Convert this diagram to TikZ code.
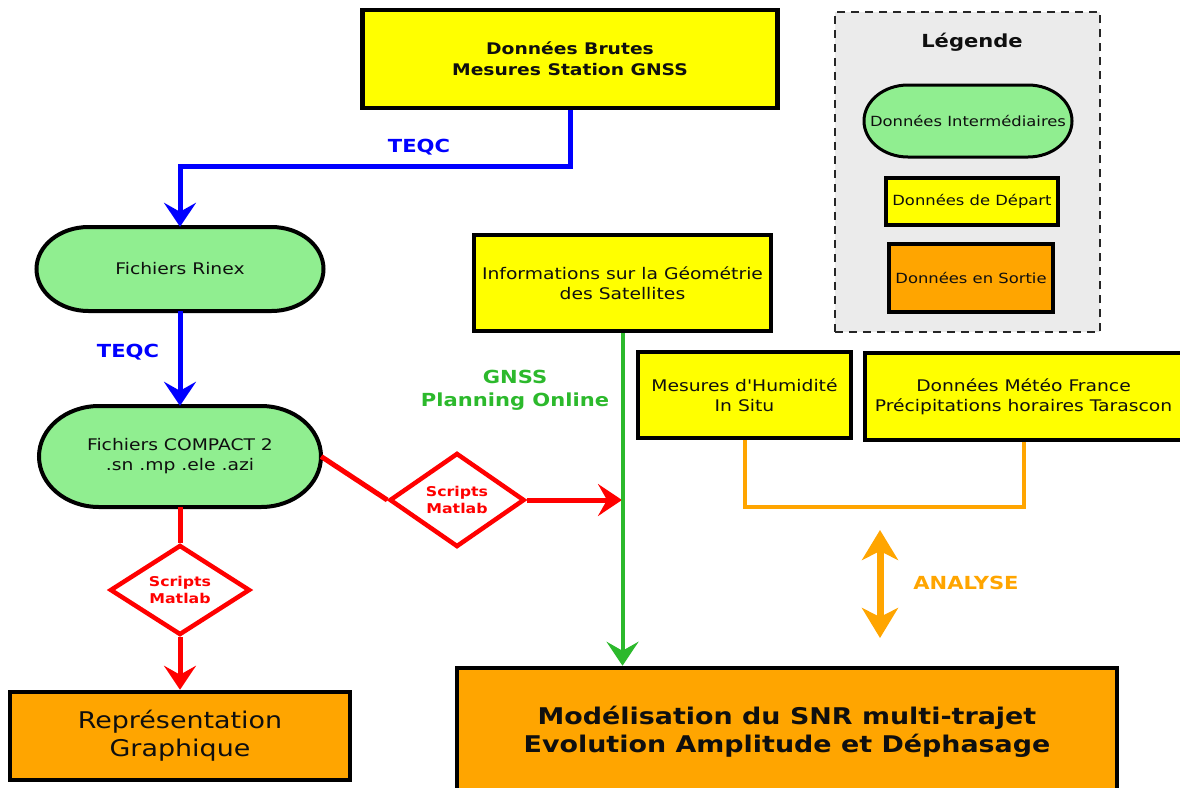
\documentclass[tikz,border=0pt]{standalone}
\usepackage{fontspec}
\setmainfont{DejaVu Sans}[FakeStretch=1.17,Ligatures=TeXOff]
\usetikzlibrary{arrows.meta,shapes.geometric}
\definecolor{cyel}{RGB}{255,255,0}
\definecolor{cgreenf}{RGB}{144,238,144}
\definecolor{corange}{RGB}{255,165,0}
\definecolor{cgline}{RGB}{44,185,44}
\definecolor{clegbg}{RGB}{235,235,235}
\definecolor{ctext}{RGB}{15,15,15}
\newcommand{\stadium}[6]{% cx, cy, half w, half h, rx, line width
  \draw[draw=black,line width=#6,fill=cgreenf]
    ({#1-#3+#5},{#2-#4}) -- ({#1+#3-#5},{#2-#4})
    arc[start angle=90,end angle=-90,x radius=#5pt,y radius=#4pt]
    -- ({#1-#3+#5},{#2+#4})
    arc[start angle=270,end angle=90,x radius=#5pt,y radius=#4pt] -- cycle;}
\begin{document}
\begin{tikzpicture}[x=1pt,y=-1pt,
  box/.style={draw=black,line width=4.5pt,inner sep=0pt,align=center,text=ctext},
  startbox/.style={box,fill=cyel},
  outbox/.style={box,fill=corange},
  plain/.style={inner sep=0pt,align=center,text=ctext},
  rg/.style={font=\fontsize{16}{20}\selectfont},
  bd/.style={font=\fontsize{16}{21}\selectfont\bfseries},
  lg/.style={font=\fontsize{14}{18}\selectfont},
  script/.style={diamond,draw=red,line width=4.5pt,fill=white,inner sep=0pt,
    align=center,text=red,font=\fontsize{13.5}{17}\selectfont\bfseries},
  lbl/.style={inner sep=0pt,align=center,font=\fontsize{18}{23}\selectfont\bfseries},
  tip/.style={-{Stealth[length=24pt,width=32pt,inset=9pt]}},
  bluec/.style={draw=blue,line width=5pt,tip},
  redc/.style={draw=red,line width=5pt},
]
\useasboundingbox (0,0) rectangle (1180,787);
\clip (0,0) rectangle (1180,787);

% Legend
\node[draw=black!85,line width=1.8pt,dash pattern=on 8pt off 6pt,fill=clegbg,
  minimum width=265pt,minimum height=320pt,inner sep=0pt] (legend) at (967.5,172) {};
\node[lbl,text=ctext] (legtitle) at (972,42) {Légende};
\stadium{968}{121}{104}{36}{44}{3pt}
\node[plain,lg,minimum width=208pt,minimum height=72pt] (leginter) at (968,121) {Données Intermédiaires};
\node[startbox,lg,line width=3.5pt,minimum width=172pt,minimum height=47pt] (legdep) at (972,201.5) {Données de Départ};
\node[outbox,lg,line width=3.5pt,minimum width=164pt,minimum height=68pt] (legsort) at (971,278) {Données en Sortie};

% Main boxes
\node[startbox,bd,minimum width=415pt,minimum height=98pt] (brut) at (570,59)
  {Données Brutes\\Mesures Station GNSS};
\stadium{180}{269}{143.5}{42}{52}{4pt}
\node[plain,rg,minimum width=287pt,minimum height=84pt] (rinex) at (180,269) {Fichiers Rinex};
\stadium{180}{456.5}{141}{50.5}{60}{4pt}
\node[plain,rg,minimum width=282pt,minimum height=101pt] (compact) at (180,456.5)
  {Fichiers COMPACT 2\\.sn .mp .ele .azi};
\node[script,minimum width=140pt,minimum height=90pt] (d1) at (180,590) {Scripts\\Matlab};
\node[outbox,font=\fontsize{23}{28}\selectfont,minimum width=340pt,minimum height=88pt] (repr) at (180,736)
  {Représentation\\Graphique};
\node[script,minimum width=135pt,minimum height=94pt] (d2) at (457,500) {Scripts\\Matlab};
\node[startbox,rg,minimum width=297pt,minimum height=96pt] (geom) at (622.5,283)
  {Informations sur la Géométrie\\des Satellites};
\node[outbox,font=\fontsize{23}{28}\selectfont\bfseries,minimum width=660pt,minimum height=127pt] (model) at (787,731.5)
  {Modélisation du SNR multi-trajet\\Evolution Amplitude et Déphasage};
\node[startbox,rg,minimum width=213pt,minimum height=86pt] (humid) at (744.5,395)
  {Mesures d'Humidité\\In Situ};
\node[startbox,rg,minimum width=317pt,minimum height=87pt] (meteo) at (1023.5,396.5)
  {Données Météo France\\Précipitations horaires Tarascon};

% Connectors
\coordinate (bend1) at (570,166);
\draw[bluec] (brut.south) -- (bend1) -| (rinex.north);
\node[lbl,text=blue] (teqc1) at (419,147) {TEQC};
\draw[bluec] (rinex.south) -- (compact.north);
\node[lbl,text=blue] (teqc2) at (128,352) {TEQC};

\draw[redc] (compact.south) -- (d1.north);
\draw[redc,tip] (d1.south) -- (repr.north);
\draw[redc] (compact.east) -- (d2.west);
\coordinate (gmeet) at (622,500);
\draw[redc,tip] (d2.east) -- (gmeet);

\draw[draw=cgline,line width=4pt,tip] (geom.south) -- (geom.south |- model.north);
\node[lbl,text=cgline] (gnss) at (515,390) {GNSS\\Planning Online};

\draw[draw=corange,line width=4pt] (humid.south) -- ++(0,67) -| (meteo.south);
\coordinate (an1) at (880,530);
\coordinate (an2) at (880,638);
\draw[draw=corange,line width=7pt,{Stealth[length=30pt,width=36pt,inset=9pt]}-{Stealth[length=30pt,width=36pt,inset=9pt]}] (an1) -- (an2);
\node[lbl,text=corange] (analyse) at (966,583) {ANALYSE};
\end{tikzpicture}
\end{document}
